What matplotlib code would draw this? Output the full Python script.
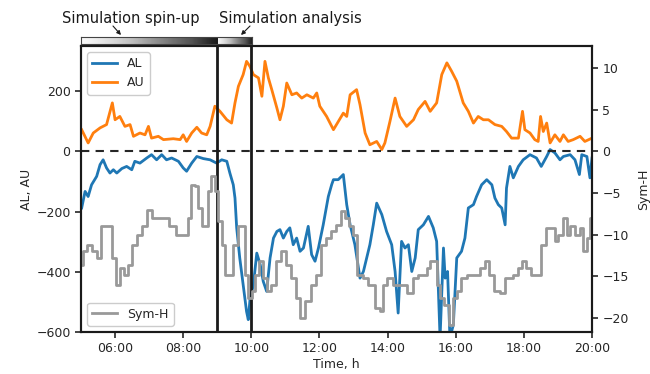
import numpy as np
import matplotlib
matplotlib.use("Agg")
import matplotlib.pyplot as plt
from matplotlib.ticker import FuncFormatter, FixedLocator
from matplotlib.patches import FancyArrowPatch

# ---- data (hours of day) ----
al_t = [5.02, 5.12, 5.21, 5.31, 5.46, 5.56, 5.65, 5.75, 5.85, 5.95, 6.05, 6.20, 6.34, 6.49, 6.58, 6.73,
        6.93, 7.07, 7.22, 7.37, 7.51, 7.66, 7.86, 8.00, 8.10, 8.25, 8.40, 8.59, 8.79, 8.98, 9.13, 9.28,
        9.37, 9.47, 9.52, 9.57, 9.66, 9.76, 9.86, 9.91, 9.96, 10.06, 10.16, 10.26, 10.35, 10.45, 10.55,
        10.65, 10.75, 10.84, 10.94, 11.04, 11.13, 11.23, 11.33, 11.43, 11.53, 11.67, 11.77, 11.87, 11.97,
        12.11, 12.26, 12.36, 12.41, 12.55, 12.70, 12.80, 12.90, 13.04, 13.19, 13.29, 13.48, 13.58, 13.68,
        13.83, 13.97, 14.12, 14.22, 14.31, 14.41, 14.51, 14.61, 14.71, 14.81, 14.90, 15.05, 15.20, 15.34,
        15.44, 15.54, 15.64, 15.69, 15.76, 15.83, 15.93, 16.03, 16.17, 16.27, 16.37, 16.52, 16.61, 16.76,
        16.91, 17.06, 17.15, 17.25, 17.35, 17.45, 17.49, 17.59, 17.69, 17.84, 17.98, 18.18, 18.37, 18.51,
        18.67, 18.77, 18.91, 19.06, 19.16, 19.36, 19.50, 19.63, 19.70, 19.85, 19.94, 20.0]
al_v = [-188, -133, -150, -111, -83, -44, -28, -55, -72, -61, -72, -57, -50, -61, -33, -39,
        -22, -11, -28, -11, -28, -22, -33, -55, -66, -39, -17, -24, -28, -39, -28, -33,
        -72, -111, -155, -254, -354, -443, -532, -559, -493, -443, -338, -376, -432, -465, -354,
        -288, -266, -260, -288, -266, -254, -310, -288, -332, -321, -249, -343, -365, -321,
        -244, -150, -110, -94, -94, -77, -177, -244, -310, -421, -399, -310, -244, -172,
        -210, -266, -310, -399, -537, -299, -321, -310, -399, -354, -260, -244, -216, -254,
        -299, -620, -321, -421, -399, -620, -576, -354, -332, -288, -188, -177, -150, -111,
        -94, -111, -155, -177, -188, -244, -122, -50, -88, -50, -28, -11, -22, -50,
        -17, 6, -5, -28, -17, -11, -28, -77, -11, -17, -88, -22]

au_t = [5.02, 5.21, 5.36, 5.56, 5.75, 5.92, 6.00, 6.14, 6.29, 6.44, 6.54, 6.73, 6.88, 6.98, 7.07, 7.27,
        7.42, 7.71, 7.91, 8.00, 8.10, 8.25, 8.40, 8.54, 8.69, 8.79, 8.93, 9.08, 9.28, 9.42, 9.52, 9.62,
        9.76, 9.86, 9.96, 10.06, 10.21, 10.31, 10.40, 10.50, 10.60, 10.75, 10.84, 10.94, 11.04, 11.19,
        11.33, 11.48, 11.63, 11.82, 11.92, 12.01, 12.21, 12.41, 12.50, 12.70, 12.80, 12.90, 13.09, 13.19,
        13.34, 13.48, 13.68, 13.83, 13.92, 14.07, 14.22, 14.36, 14.56, 14.76, 14.90, 15.10, 15.25, 15.44,
        15.59, 15.74, 15.88, 16.03, 16.22, 16.37, 16.52, 16.66, 16.81, 16.96, 17.15, 17.35, 17.49, 17.64,
        17.84, 17.96, 18.03, 18.18, 18.32, 18.42, 18.49, 18.57, 18.67, 18.77, 18.91, 19.06, 19.16, 19.30,
        19.45, 19.65, 19.79, 20.0]
au_v = [72, 28, 61, 78, 89, 161, 105, 116, 83, 89, 50, 61, 55, 83, 44, 50,
        39, 42, 39, 55, 33, 61, 80, 61, 55, 83, 150, 133, 105, 94, 161, 216,
        255, 299, 282, 255, 244, 183, 299, 244, 205, 144, 105, 150, 227, 188,
        194, 177, 188, 177, 194, 150, 116, 72, 89, 127, 116, 188, 205, 155,
        61, 22, 33, 6, 28, 100, 177, 116, 83, 105, 139, 166, 133, 161,
        255, 294, 266, 233, 161, 133, 94, 116, 105, 105, 89, 83, 66, 44,
        44, 133, 72, 61, 39, 33, 116, 66, 94, 28, 55, 33, 55, 33,
        39, 50, 33, 44]

sym_t = [5.02, 5.12, 5.26, 5.41, 5.51, 5.65, 5.85, 5.95, 6.10, 6.20, 6.34, 6.44, 6.58, 6.73, 6.88, 7.02,
         7.17, 7.51, 7.66, 7.91, 8.10, 8.20, 8.28, 8.40, 8.49, 8.64, 8.79, 8.87, 8.98, 9.08, 9.18, 9.28,
         9.42, 9.52, 9.67, 9.76, 9.86, 9.96, 10.06, 10.16, 10.31, 10.40, 10.50, 10.65, 10.80, 10.94, 11.09,
         11.23, 11.38, 11.48, 11.67, 11.82, 11.97, 12.11, 12.26, 12.41, 12.55, 12.70, 12.80, 12.92, 13.04,
         13.19, 13.34, 13.53, 13.73, 13.83, 13.92, 14.07, 14.27, 14.46, 14.66, 14.81, 14.95, 15.10, 15.20,
         15.30, 15.39, 15.49, 15.59, 15.74, 15.88, 15.98, 16.08, 16.22, 16.42, 16.61, 16.81, 16.91, 17.06,
         17.20, 17.40, 17.49, 17.64, 17.74, 17.89, 17.98, 18.13, 18.28, 18.42, 18.57, 18.71, 18.86, 18.96,
         19.06, 19.21, 19.30, 19.40, 19.60, 19.70, 19.79, 19.89, 20.0]
sym_v = [-13.6, -12.0, -11.2, -12.0, -12.8, -9.0, -9.0, -12.8, -16.0, -14.0, -14.8, -13.6, -11.2, -10.0, -9.0, -7.0,
         -8.0, -8.0, -9.0, -10.0, -10.0, -8.0, -4.0, -4.2, -6.8, -9.0, -4.8, -3.0, -4.8, -8.4, -11.2, -14.8,
         -14.8, -11.2, -9.0, -9.0, -14.8, -17.6, -16.8, -14.8, -13.2, -15.2, -16.8, -16.0, -13.2, -12.0, -13.6,
         -15.2, -17.6, -20.0, -18.0, -16.0, -14.8, -11.2, -10.4, -9.6, -8.8, -7.2, -8.0, -9.0, -10.0,
         -14.8, -15.2, -16.0, -18.8, -19.2, -16.0, -15.2, -16.0, -16.0, -17.0, -15.2, -14.8, -14.8, -14.0,
         -13.2, -13.2, -16.0, -17.6, -18.4, -20.8, -17.6, -16.8, -15.2, -14.8, -14.8, -14.0, -13.2, -14.8,
         -16.8, -17.0, -15.2, -15.2, -14.8, -14.0, -13.2, -14.0, -14.8, -14.8, -11.2, -9.2, -9.2, -10.8,
         -10.0, -8.0, -10.0, -9.0, -10.0, -9.2, -12.0, -10.4, -8.0]

xticks = [6, 8, 10, 12, 14, 16, 18, 20]
phase_bounds = [5, 9, 10]
phase_labels = ["Simulation spin-up", "Simulation analysis"]

# ---- figure ----
W, H = 650, 374
fig = plt.figure(figsize=(6.5, 3.74), dpi=100)
L, R, B, T = 81 / W, 592 / W, 1 - 332 / H, 1 - 46 / H
ax = fig.add_axes([L, B, R - L, T - B])
ax2 = ax.twinx()

txt = "#262626"
fs = 9

ax.plot(al_t, al_v, color="#1f77b4", lw=2, label="AL")
ax.plot(au_t, au_v, color="#ff7f0e", lw=2, label="AU")
ax.axhline(0, color="#262626", lw=1.5, ls=(0, (4, 3)))
for b in phase_bounds[1:]:
    ax.axvline(b, color="#1a1a1a", lw=2)
ax2.plot(sym_t, sym_v, color="#999999", lw=2, drawstyle="steps-mid", label="Sym-H")

ax.set_xlim(5, 20)
ax.set_ylim(-600, 350)
ax2.set_ylim(-600 / 27.7, 350 / 27.7)
ax.set_yticks([-600, -400, -200, 0, 200])
ax2.set_yticks([-20, -15, -10, -5, 0, 5, 10])
ax.xaxis.set_major_locator(FixedLocator(xticks))
ax.xaxis.set_major_formatter(FuncFormatter(lambda v, p: "%02d:00" % int(round(v))))

ax.set_xlabel("Time, h", fontsize=fs, color=txt, labelpad=2)
ax.set_ylabel("AL, AU", fontsize=fs, color=txt, labelpad=2)
ax2.set_ylabel("Sym-H", fontsize=fs, color=txt, labelpad=6)

for a in (ax, ax2):
    a.tick_params(labelsize=fs, colors=txt, length=4, width=1.2, direction="out")
    for s in a.spines.values():
        s.set_linewidth(1.5)
        s.set_color("#1a1a1a")

leg1 = ax.legend(loc="upper left", fontsize=fs, framealpha=1, edgecolor="#cccccc", labelcolor=txt)
leg2 = ax2.legend(loc="lower left", fontsize=fs, framealpha=1, edgecolor="#cccccc", labelcolor=txt)

# ---- phase gradient bar ----
bax = fig.add_axes([L, 1 - 44 / H, (252 - 81) / W, 7 / H])
grad = np.linspace(0, 1, 256).reshape(1, -1)
bax.imshow(grad, extent=(phase_bounds[0], phase_bounds[1], 0, 1), aspect="auto", cmap="Greys", vmin=-0.05, vmax=1.1)
bax.imshow(grad, extent=(phase_bounds[1], phase_bounds[2], 0, 1), aspect="auto", cmap="Greys", vmin=-0.1, vmax=1.1)
bax.set_xlim(phase_bounds[0], phase_bounds[2])
bax.set_ylim(0, 1)
bax.set_xticks([])
bax.set_yticks([])
for s in bax.spines.values():
    s.set_linewidth(0.8)
    s.set_color("#444444")

fig.text(131 / W, 1 - 18 / H, phase_labels[0], ha="center", va="center", fontsize=10.5, color="#1a1a1a")
fig.text(290 / W, 1 - 18 / H, phase_labels[1], ha="center", va="center", fontsize=10.5, color="#1a1a1a")
fig.add_artist(FancyArrowPatch((113 / W, 1 - 26 / H), (121 / W, 1 - 35 / H),
               transform=fig.transFigure, arrowstyle="-|>", mutation_scale=6, color="#1a1a1a", lw=0.8,
               shrinkA=0, shrinkB=0))
fig.add_artist(FancyArrowPatch((250 / W, 1 - 26 / H), (241 / W, 1 - 35 / H),
               transform=fig.transFigure, arrowstyle="-|>", mutation_scale=6, color="#1a1a1a", lw=0.8,
               shrinkA=0, shrinkB=0))

fig.savefig("out.png", dpi=100)
